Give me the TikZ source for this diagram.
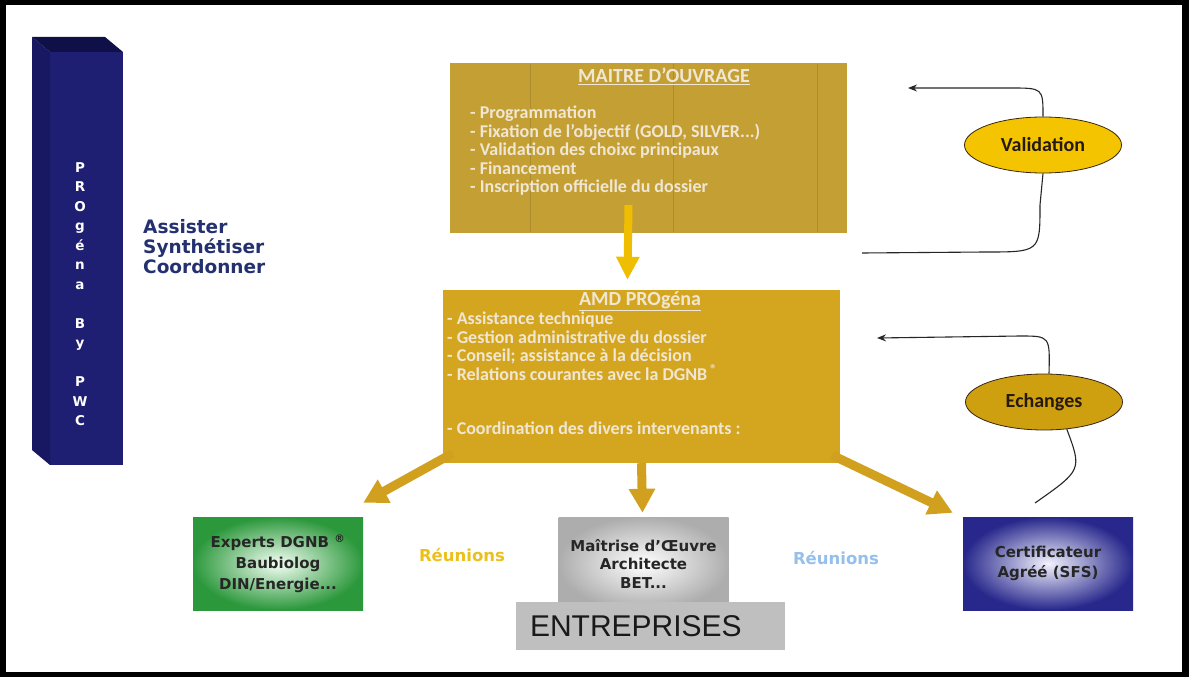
\documentclass[tikz,border=0pt]{standalone}
\usepackage{fontspec}
\setmainfont{Carlito}
\newfontfamily\verdfont{DejaVu Sans}
\newfontfamily\arialfont{Liberation Sans}
\usetikzlibrary{arrows.meta,shapes.geometric}

\definecolor{navyfront}{RGB}{30,30,115}
\definecolor{navyside}{RGB}{24,24,98}
\definecolor{navytop}{RGB}{16,16,72}
\definecolor{moagold}{RGB}{196,160,52}
\definecolor{amdgold}{RGB}{212,166,32}
\definecolor{boxtext}{RGB}{240,230,212}
\definecolor{arrowyellow}{RGB}{240,190,0}
\definecolor{arrowgold}{RGB}{208,160,30}
\definecolor{validfill}{RGB}{245,196,0}
\definecolor{echfill}{RGB}{206,160,16}
\definecolor{textblue}{RGB}{36,48,112}
\definecolor{expgreen}{RGB}{44,152,60}
\definecolor{certblue}{RGB}{40,40,140}
\definecolor{reuyellow}{RGB}{236,192,28}
\definecolor{reublue}{RGB}{150,192,236}

\tikzset{
  goldbox/.style={rectangle, minimum width=397pt, inner sep=0pt},
  titletext/.style={text=boxtext, font=\bfseries\fontsize{20}{22}\selectfont},
  listtext/.style={text=boxtext, align=left, inner sep=0pt, anchor=north west},
  actorbox/.style={rectangle, minimum width=170pt, minimum height=93pt, align=center, text=black!85},
  actorfont/.style={font=\verdfont\bfseries\fontsize{15}{#1}\selectfont},
  bigarrow/.style={arrowgold, line width=9pt, -{Triangle[width=25pt,length=24pt]}},
  loopline/.style={black!85, line width=1.1pt},
  loopend/.style={-{Stealth[length=9pt,width=7pt]}},
  bubble/.style={ellipse, draw=black!70!brown, line width=0.8pt, minimum width=157pt, minimum height=56pt, font=\bfseries\fontsize{20}{22}\selectfont, text=black!80!brown}
}

\begin{document}
\begin{tikzpicture}[x=1pt,y=-1pt]
  % frame
  \fill[black] (0,0) rectangle (1189,677);
  \fill[white] (6,5) rectangle (1182,672);

  % pillar
  \fill[navyfront] (50,52) rectangle (123,465);
  \fill[navyside] (32,37) -- (50,52) -- (50,465) -- (32,450) -- cycle;
  \fill[navytop] (32,37) -- (105,37) -- (123,52) -- (50,52) -- cycle;
  \node[text=white, align=center, inner sep=0pt, font=\verdfont\bfseries\fontsize{13.5}{19.5}\selectfont] (pillar) at (80,294) {P\\R\\O\\g\\é\\n\\a\\[19.5pt]B\\y\\[19.5pt]P\\W\\C};
  \node[anchor=north west, inner sep=0pt, align=left, text=textblue, font=\verdfont\bfseries\fontsize{18.5}{20}\selectfont] (roles) at (143,219) {Assister\\Synthétiser\\Coordonner};

  % maitre d'ouvrage
  \node[goldbox, fill=moagold, minimum height=170pt] (maitre) at (648.5,148) {};
  \foreach \x in {530,673,817}
    \draw[moagold!88!black, line width=0.8pt] (\x,64) -- (\x,232);
  \node[titletext] (maitretitle) at (664,76) {\underline{MAITRE D’OUVRAGE}};
  \node[listtext, font=\bfseries\fontsize{18}{18.5}\selectfont] (maitrelist) at (470,106) {- Programmation\\- Fixation de l’objectif (GOLD, SILVER...)\\- Validation des choixc principaux\\- Financement\\- Inscription officielle du dossier};

  % AMD
  \node[goldbox, fill=amdgold, minimum height=173pt] (amd) at (641.5,376.5) {};
  \node[titletext] (amdtitle) at (640,301) {\underline{AMD PROgéna}};
  \node[listtext, font=\bfseries\fontsize{18}{18.4}\selectfont] (amdlist) at (447,312) {- Assistance technique\\- Gestion administrative du dossier\\- Conseil; assistance à la décision\\- Relations courantes avec la DGNB\,\textsuperscript{®}\\[36pt]- Coordination des divers intervenants :};

  % actors
  \node[actorbox, actorfont=21, inner color=green!4!white, outer color=expgreen] (experts) at (278,563.5) {Experts DGNB \textsuperscript{®}\\Baubiolog\\DIN/Energie...};
  \node[actorbox, actorfont=18.5, inner color=white, outer color=black!32] (maitrise) at (643.5,563.5) {Maîtrise d’Œuvre\\Architecte\\BET...};
  \node[rectangle, fill=black!25, minimum width=269pt, minimum height=48pt] (entreprises) at (650.5,626) {};
  \node[anchor=west, inner sep=0pt, text=black!90, font=\arialfont\fontsize{30}{31}\selectfont] (entlabel) at ([xshift=14pt]entreprises.west) {ENTREPRISES};
  \node[actorbox, actorfont=20, inner color=white!95!blue, outer color=certblue] (certif) at (1048,563.5) {Certificateur\\Agréé (SFS)};
  \node[text=reuyellow, font=\verdfont\bfseries\fontsize{16.5}{18}\selectfont] (reunionleft) at (462,555) {Réunions};
  \node[text=reublue, font=\verdfont\bfseries\fontsize{16.5}{18}\selectfont] (reunionright) at (836,558) {Réunions};

  % arrows
  \draw[arrowyellow, line width=8pt, -{Triangle[width=22pt,length=23pt]}] ([shift={(-20,-28)}]maitre.south) -- ([shift={(-14,-10)}]amd.north);
  \draw[bigarrow] ([shift={(10,-10)}]amd.south west) -- ([shift={(0,-14)}]experts.north east);
  \draw[bigarrow] (amd.south) -- ([shift={(-1,-4)}]maitrise.north);
  \draw[bigarrow] ([shift={(-8,-8)}]amd.south east) -- ([shift={(-10,-4)}]certif.north west);

  % loops
  \node[bubble, fill=validfill] (valid) at (1043,145) {Validation};
  \node[bubble, fill=echfill] (ech) at (1044,402) {Echanges};
  \coordinate (valtop) at (908,88);
  \coordinate (valbot) at (862,253);
  \coordinate (echtop) at (877,338);
  \coordinate (echbot) at (1035,503);
  \draw[loopline, loopend] (valid.north) .. controls (1043,88) .. (1010,88) -- (valtop);
  \draw[loopline] (valid.south) -- (1040,205) .. controls (1040,252) .. (985,252) -- (valbot);
  \draw[loopline, loopend] (ech.80) .. controls (1050,336) .. (1020,336) -- (echtop);
  \draw[loopline] (ech.-50) .. controls (1082,470) .. (echbot);

\end{tikzpicture}
\end{document}
